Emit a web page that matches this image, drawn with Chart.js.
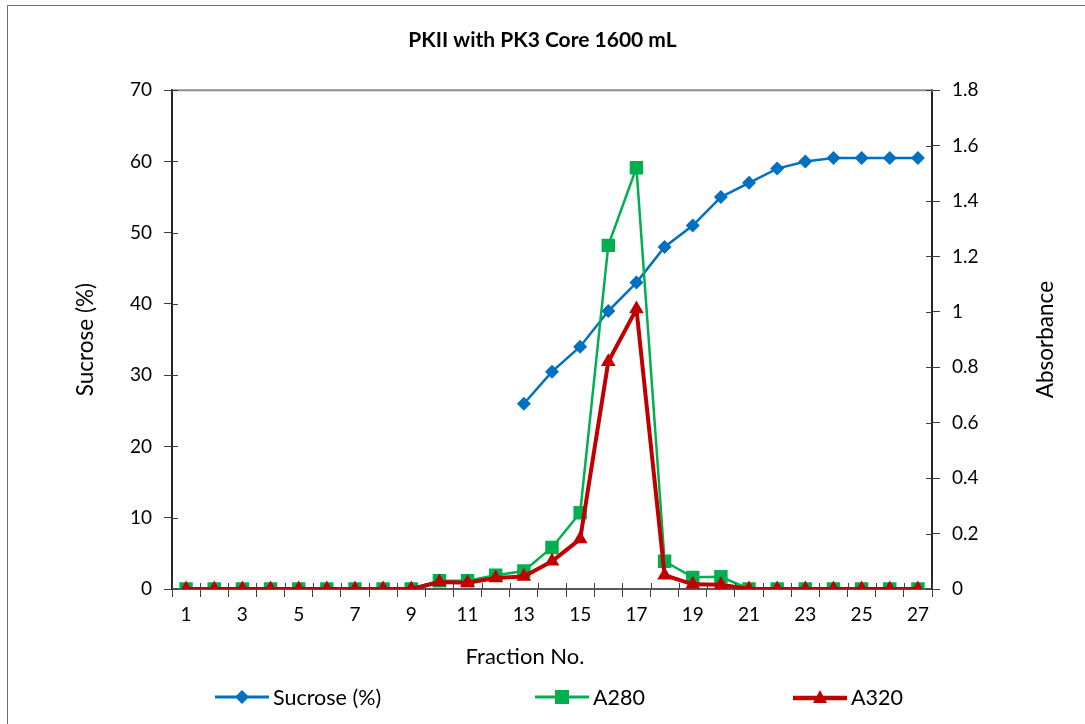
<!DOCTYPE html>
<html>
<head>
<meta charset="utf-8">
<title>PKII with PK3 Core 1600 mL</title>
<script src="https://cdn.jsdelivr.net/npm/chart.js@4.4.1/dist/chart.umd.min.js"></script>
<style>
  html, body { margin: 0; padding: 0; background: #fff; }
  body { width: 1085px; height: 724px; position: relative; overflow: hidden; font-family: Lato, "Open Sans", sans-serif; }
  .frame { position: absolute; left: 7px; top: 5px; width: 1100px; height: 740px; border: 1px solid #6e6e6e; box-sizing: border-box; }
  #chart { position: absolute; left: 0; top: 0; }
  .item { position: absolute; top: 685px; display: flex; align-items: center; font-size: 21.5px; line-height: 24px; color: #000; white-space: nowrap; }
  .item svg { margin-right: 4px; }
</style>
</head>
<body>
<div class="frame"></div>
<canvas id="chart" width="1085" height="724"></canvas>
<div class="item" style="left: 215px;">
  <svg width="54" height="20"><line x1="0" y1="10" x2="54" y2="10" stroke="#0070C0" stroke-width="3"/><polygon points="27,3 34,10 27,17 20,10" fill="#0070C0"/></svg>
  <span>Sucrose (%)</span>
</div>
<div class="item" style="left: 535px;">
  <svg width="54" height="20"><line x1="0" y1="10" x2="54" y2="10" stroke="#00B050" stroke-width="3"/><rect x="20" y="3" width="14" height="14" fill="#00B050"/></svg>
  <span>A280</span>
</div>
<div class="item" style="left: 793px;">
  <svg width="54" height="20"><line x1="0" y1="11" x2="54" y2="11" stroke="#C00000" stroke-width="4.5"/><polygon points="27,3 34,16 20,16" fill="#C00000"/></svg>
  <span>A320</span>
</div>
<script>
// fraction numbers on the x axis
const fractions = ['1', '2', '3', '4', '5', '6', '7', '8', '9', '10', '11', '12', '13', '14',
  '15', '16', '17', '18', '19', '20', '21', '22', '23', '24', '25', '26', '27'];

// sucrose (%) - left axis, only measured from fraction 13 on
const sucrose = [null, null, null, null, null, null, null, null, null, null, null, null,
  26, 30.5, 34, 39, 43, 48, 51, 55, 57, 59, 60, 60.5, 60.5, 60.5, 60.5];

// absorbance - right axis
const a280 = [0, 0, 0, 0, 0, 0, 0, 0, 0, 0.03, 0.03, 0.05, 0.065, 0.15,
  0.275, 1.24, 1.52, 0.1, 0.042, 0.044, 0, 0, 0, 0, 0, 0, 0];
const a320 = [0, 0, 0, 0, 0, 0, 0, 0, 0, 0.025, 0.023, 0.04, 0.045, 0.1,
  0.18, 0.82, 1.01, 0.05, 0.017, 0.015, 0, 0, 0, 0, 0, 0, 0];

const sucroseTicks = [0, 10, 20, 30, 40, 50, 60, 70];
const absTicks = [0, 0.2, 0.4, 0.6, 0.8, 1, 1.2, 1.4, 1.6, 1.8];

const FONT = 'Lato, "Open Sans", sans-serif';
Chart.defaults.font.family = FONT;
Chart.defaults.color = '#000';

// Excel style cross ticks, plot frame top line and the axis titles Excel places its own way
const axisDecor = {
  id: 'axisDecor',
  afterDraw(chart) {
    const { ctx, chartArea: a, scales } = chart;
    ctx.save();
    ctx.strokeStyle = '#8c8c8c';
    ctx.lineWidth = 2;
    ctx.beginPath();
    ctx.moveTo(a.left, a.top);
    ctx.lineTo(a.right + 1, a.top);
    ctx.stroke();

    ctx.strokeStyle = '#404040';
    ctx.lineWidth = 1;
    ctx.beginPath();
    scales.y.ticks.forEach(t => {
      const py = Math.round(scales.y.getPixelForValue(t.value)) + 0.5;
      ctx.moveTo(a.left, py);
      ctx.lineTo(a.left + 6, py);
    });
    scales.y1.ticks.forEach(t => {
      const py = Math.round(scales.y1.getPixelForValue(t.value)) + 0.5;
      ctx.moveTo(a.right, py);
      ctx.lineTo(a.right - 6, py);
    });
    const x = scales.x;
    const half = (x.getPixelForValue(1) - x.getPixelForValue(0)) / 2;
    for (let i = 0; i <= fractions.length; i++) {
      const px = Math.round(x.getPixelForValue(i) - half) + 0.5;
      ctx.moveTo(px, a.bottom);
      ctx.lineTo(px, a.bottom - 6);
    }
    ctx.stroke();

    ctx.fillStyle = '#000';
    ctx.textAlign = 'center';
    ctx.textBaseline = 'middle';
    ctx.font = '22px ' + FONT;
    ctx.fillText('Fraction No.', 525, 657);

    ctx.translate(1046, (a.top + a.bottom) / 2);
    ctx.rotate(-Math.PI / 2);
    ctx.font = '22.5px ' + FONT;
    ctx.fillText('Absorbance', 0, 0);
    ctx.restore();
  }
};

new Chart(document.getElementById('chart'), {
  type: 'line',
  data: {
    labels: fractions,
    datasets: [
      {
        label: 'Sucrose (%)',
        data: sucrose,
        yAxisID: 'y',
        borderColor: '#0070C0',
        backgroundColor: '#0070C0',
        borderWidth: 2.5,
        pointStyle: 'rectRot',
        pointRadius: 7,
        pointBorderWidth: 0,
        order: 3
      },
      {
        label: 'A280',
        data: a280,
        yAxisID: 'y1',
        borderColor: '#00B050',
        backgroundColor: '#00B050',
        borderWidth: 2.5,
        pointStyle: 'rect',
        pointRadius: 9.5,
        pointBorderWidth: 0,
        order: 2
      },
      {
        label: 'A320',
        data: a320,
        yAxisID: 'y1',
        borderColor: '#C00000',
        backgroundColor: '#C00000',
        borderWidth: 4,
        pointStyle: 'triangle',
        pointRadius: 8.5,
        pointBorderWidth: 0,
        order: 1
      }
    ]
  },
  options: {
    responsive: false,
    animation: false,
    layout: { padding: { left: 0, right: 0, top: 0, bottom: 54 } },
    plugins: {
      legend: { display: false },
      tooltip: { enabled: false },
      title: {
        display: true,
        text: 'PKII with PK3 Core 1600 mL',
        color: '#000',
        font: { size: 21, weight: 'bold' },
        padding: { top: 28, bottom: 37 }
      }
    },
    scales: {
      x: {
        type: 'category',
        offset: true,
        border: { color: '#595959', width: 2 },
        grid: { offset: true, drawOnChartArea: false, drawTicks: true, tickLength: 8, color: '#404040' },
        ticks: {
          autoSkip: false,
          maxRotation: 0,
          padding: 6,
          font: { size: 19 },
          callback: (v, i) => (i % 2 === 0 ? fractions[i] : '')
        },
        title: { display: false },
        afterFit: s => { s.height = 81; }
      },
      y: {
        position: 'left',
        min: 0,
        max: 70,
        border: { color: '#262626', width: 2 },
        grid: { drawOnChartArea: false, tickLength: 8, color: '#404040' },
        ticks: {
          stepSize: 10,
          padding: 12,
          font: { size: 19 },
          callback: v => (sucroseTicks.includes(v) ? String(v) : '')
        },
        title: { display: true, text: 'Sucrose (%)', font: { size: 22.5 }, padding: { top: 72, bottom: 0 } },
        afterFit: s => { s.width = 172; }
      },
      y1: {
        position: 'right',
        min: 0,
        max: 1.8,
        border: { color: '#262626', width: 2 },
        grid: { drawOnChartArea: false, tickLength: 8, color: '#404040' },
        ticks: {
          stepSize: 0.2,
          padding: 12,
          font: { size: 19 },
          callback: v => {
            const r = Math.round(v * 10) / 10;
            return absTicks.includes(r) ? String(r) : '';
          }
        },
        afterFit: s => { s.width = 153; }
      }
    }
  },
  plugins: [axisDecor]
});
</script>
</body>
</html>
